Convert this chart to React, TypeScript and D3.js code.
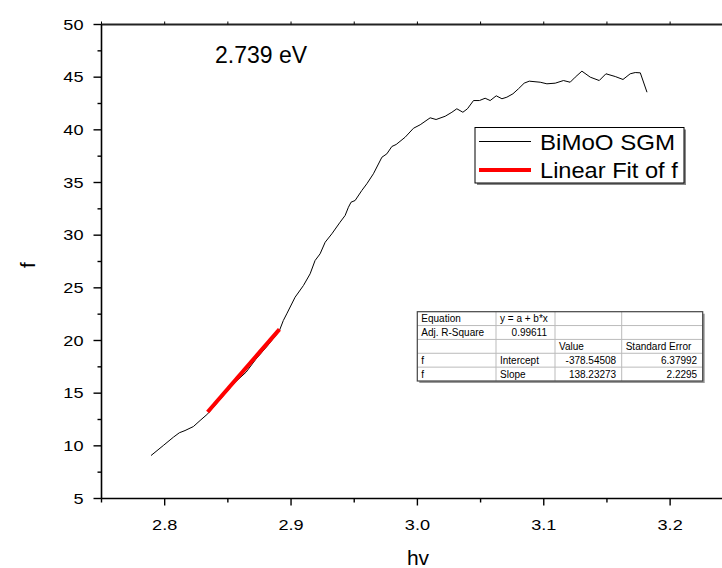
import React from "react";
import * as d3 from "d3";

const hv: number[] = [
  2.7892, 2.7989, 2.8069, 2.8116, 2.8161, 2.8227, 2.828, 2.8341, 2.845, 2.855, 2.8644, 2.872, 2.881, 2.8905,
  2.8939, 2.8966, 2.9032, 2.9098, 2.9151, 2.919, 2.923, 2.927, 2.9323, 2.9388, 2.9428, 2.9454, 2.9475, 2.9507,
  2.956, 2.96, 2.9652, 2.9719, 2.9758, 2.9798, 2.9832, 2.9903, 2.9969, 3.0022, 3.0101, 3.0148, 3.022, 3.0273,
  3.0312, 3.036, 3.0396, 3.0444, 3.0491, 3.0536, 3.0576, 3.0624, 3.0669, 3.0708, 3.0756, 3.08, 3.0845, 3.0885,
  3.0972, 3.1025, 3.1091, 3.1156, 3.1209, 3.1249, 3.1302, 3.1368, 3.1439, 3.1492, 3.1566, 3.1627, 3.1684,
  3.1724, 3.1764, 3.1817,
];
const fVals: number[] = [
  9.08, 10.03, 10.82, 11.24, 11.45, 11.83, 12.4, 13.04, 14.55, 15.95, 16.99, 18.2, 19.45, 20.85,
  21.9, 22.53, 24.11, 25.22, 26.33, 27.59, 28.23, 29.33, 30.13, 31.23, 31.87, 32.65, 33.13, 33.29,
  34.24, 34.88, 35.83, 37.4, 37.72, 38.42, 38.61, 39.3, 40.15, 40.48, 41.14, 40.98, 41.29, 41.67,
  42.0, 41.67, 42.0, 42.78, 42.78, 43.0, 42.78, 43.23, 42.95, 43.1, 43.42, 43.9, 44.43, 44.62,
  44.52, 44.37, 44.43, 44.68, 44.52, 45.0, 45.57, 45.0, 44.68, 45.32, 45.06, 44.78, 45.32,
  45.44, 45.41, 43.57,
];

const fitIntercept = -378.54508;
const fitSlope = 138.23273;
const fitRange: number[] = [2.834, 2.8908];

const xTicks: number[] = [2.8, 2.9, 3.0, 3.1, 3.2];
const xMinor: number[] = [2.75, 2.85, 2.95, 3.05, 3.15];
const yTicks: number[] = [5, 10, 15, 20, 25, 30, 35, 40, 45, 50];
const yMinor: number[] = [7.5, 12.5, 17.5, 22.5, 27.5, 32.5, 37.5, 42.5, 47.5];

const seriesNames: string[] = ["BiMoO SGM", "Linear Fit of f"];
const annotation = "2.739 eV";
const xLabel = "hv";
const yLabel = "f";

const tableRows: string[][] = [
  ["Equation", "y = a + b*x", "", ""],
  ["Adj. R-Square", "0.99611", "", ""],
  ["", "", "Value", "Standard Error"],
  ["f", "Intercept", "-378.54508", "6.37992"],
  ["f", "Slope", "138.23273", "2.2295"],
];
// alignment per cell: l = left, r = right
const tableAlign: string[][] = [
  ["l", "l", "l", "l"],
  ["l", "r", "l", "l"],
  ["l", "l", "l", "l"],
  ["l", "l", "r", "r"],
  ["l", "l", "r", "r"],
];

const FONT = "'Liberation Sans', Arial, Helvetica, sans-serif";

export default function App() {
  const W = 722;
  const H = 568;
  const x = d3.scaleLinear().domain([2.75, 3.25]).range([101.5, 733.3]);
  const y = d3.scaleLinear().domain([5, 50]).range([498.5, 24.5]);

  const pts: [number, number][] = hv.map((v, i) => [v, fVals[i]]);
  const line = d3
    .line<[number, number]>()
    .x((d) => x(d[0]))
    .y((d) => y(d[1]));
  const fitPts: [number, number][] = fitRange.map((v) => [v, fitIntercept + fitSlope * v]);

  const left = x(2.75);
  const bottom = y(5);
  const top = y(50);

  // table layout
  const tX = 417.3;
  const tY = 311.7;
  const colX = [417.3, 496, 555, 621.7, 702.7];
  const rowH = 13.86;
  const tW = colX[4] - colX[0];
  const tH = rowH * tableRows.length;

  return (
    <svg
      width={W}
      height={H}
      style={{ position: "absolute", left: 0, top: 0, background: "#fff" }}
      fontFamily={FONT}
    >
      <rect x={0} y={0} width={W} height={H} fill="#fff" />

      {/* frame */}
      <line x1={left} x2={W} y1={top} y2={top} stroke="#222" strokeWidth={2} />
      <line x1={left} x2={left} y1={top} y2={bottom} stroke="#000" strokeWidth={1.6} />
      <line x1={left} x2={W} y1={bottom} y2={bottom} stroke="#000" strokeWidth={1.6} />

      {/* y ticks */}
      {yTicks.map((t) => (
        <g key={"yt" + t}>
          <line x1={left - 8} x2={left} y1={y(t)} y2={y(t)} stroke="#000" strokeWidth={1.4} />
          <g transform={`translate(${left - 18},${y(t) + 5}) scale(1.25,1)`}>
            <text textAnchor="end" fontSize={14.5} fill="#000">
              {t}
            </text>
          </g>
        </g>
      ))}
      {yMinor.map((t) => (
        <line key={"ym" + t} x1={left - 4} x2={left} y1={y(t)} y2={y(t)} stroke="#000" strokeWidth={1.4} />
      ))}

      {/* x ticks */}
      {xTicks.map((t) => (
        <g key={"xt" + t}>
          <line x1={x(t)} x2={x(t)} y1={bottom} y2={bottom + 7} stroke="#000" strokeWidth={1.4} />
          <line x1={x(t)} x2={x(t)} y1={top} y2={top - 3} stroke="#000" strokeWidth={1} />
          <g transform={`translate(${x(t)},${bottom + 31}) scale(1.25,1)`}>
            <text textAnchor="middle" fontSize={14.5} fill="#000">
              {d3.format(".1f")(t)}
            </text>
          </g>
        </g>
      ))}
      {xMinor.map((t) => (
        <g key={"xm" + t}>
          <line x1={x(t)} x2={x(t)} y1={bottom} y2={bottom + 4} stroke="#000" strokeWidth={1.4} />
          <line x1={x(t)} x2={x(t)} y1={top} y2={top - 3} stroke="#000" strokeWidth={1} />
        </g>
      ))}

      {/* axis labels */}
      <text x={418} y={565} textAnchor="middle" fontSize={21} fill="#000">
        {xLabel}
      </text>
      <text
        transform={`translate(35,265) rotate(-90)`}
        textAnchor="middle"
        fontSize={21}
        fill="#000"
      >
        {yLabel}
      </text>

      {/* data */}
      <path d={line(pts) || ""} fill="none" stroke="#000" strokeWidth={1} />
      <path d={line(fitPts) || ""} fill="none" stroke="#ff0000" strokeWidth={4} />

      {/* annotation */}
      <text x={215} y={63} fontSize={23} fill="#000">
        {annotation}
      </text>

      {/* legend */}
      <rect x={477} y={129.5} width={209} height={55.5} fill="#888" />
      <rect x={475} y={127.5} width={209} height={55.5} fill="#fff" stroke="#000" strokeWidth={1} />
      <line x1={479} x2={531} y1={141.5} y2={141.5} stroke="#000" strokeWidth={1} />
      <line x1={479} x2={531} y1={170} y2={170} stroke="#ff0000" strokeWidth={4} />
      <g transform={`translate(540,149.5) scale(1.07,1)`}>
        <text fontSize={22.5} fill="#000">
          {seriesNames[0]}
        </text>
      </g>
      <g transform={`translate(540,178.3) scale(1.05,1)`}>
        <text fontSize={22.5} fill="#000">
          {seriesNames[1]}
        </text>
      </g>

      {/* table */}
      <rect x={tX + 2} y={tY + 2} width={tW} height={tH} fill="#999" />
      <rect x={tX} y={tY} width={tW} height={tH} fill="#fff" />
      {tableRows.slice(1).map((_, i) => (
        <line
          key={"tr" + i}
          x1={tX}
          x2={tX + tW}
          y1={tY + rowH * (i + 1)}
          y2={tY + rowH * (i + 1)}
          stroke="#bbb"
          strokeWidth={1}
        />
      ))}
      {colX.slice(1, 4).map((cx, i) => (
        <line key={"tc" + i} x1={cx} x2={cx} y1={tY} y2={tY + tH} stroke="#bbb" strokeWidth={1} />
      ))}
      <rect x={tX} y={tY} width={tW} height={tH} fill="none" stroke="#444" strokeWidth={1.2} />
      {tableRows.map((row, ri) =>
        row.map((cell, ci) => {
          if (!cell) return null;
          const right = tableAlign[ri][ci] === "r";
          const pad = ci === 1 && right ? 8 : 5.5;
          return (
            <text
              key={`c${ri}-${ci}`}
              x={right ? colX[ci + 1] - pad : colX[ci] + 4}
              y={tY + rowH * ri + 10.5}
              textAnchor={right ? "end" : "start"}
              fontSize={10}
              fill="#000"
            >
              {cell}
            </text>
          );
        })
      )}
    </svg>
  );
}
